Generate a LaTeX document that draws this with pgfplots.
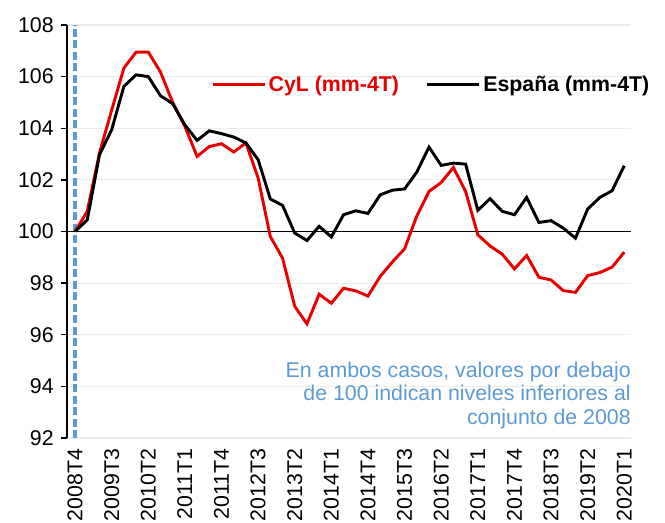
\documentclass[border=0pt]{standalone}
\usepackage{pgfplots}
\pgfplotsset{compat=1.18}
\usepackage{fontspec}
\setmainfont{Liberation Sans}
\definecolor{cylred}{RGB}{230,0,0}
\definecolor{noteblue}{RGB}{91,155,213}
\definecolor{gridgray}{RGB}{235,235,235}

\begin{document}
\begin{tikzpicture}
\begin{axis}[
  name=ax,
  scale only axis,
  width=423pt, height=309.75pt,
  xmin=-0.66, xmax=45.55,
  ymin=92, ymax=108,
  ytick={92,94,...,108},
  xtick={0,3,...,45},
  xticklabels={2008T4,2009T3,2010T2,2011T1,2011T4,2012T3,2013T2,2014T1,2014T4,2015T3,2016T2,2017T1,2017T4,2018T3,2019T2,2020T1},
  x tick label style={rotate=90, anchor=east},
  y tick label style={xshift=-2pt},
  separate axis lines,
  axis x line*=bottom, axis y line*=left,
  x axis line style={draw=none},
  y axis line style={black, line width=1pt, -},
  xtick style={draw=none},
  ytick style={black, line width=1pt},
  tick align=outside,
  major tick length=4.5pt,
  ymajorgrids, grid style={gridgray, line width=0.8pt},
  tick label style={font=\fontsize{16}{18}\selectfont},
  /pgf/number format/assume math mode=true,
  legend columns=2,
  legend style={at={(rel axis cs:0.255,0.855)}, anchor=west, draw=none, fill=none,
    inner sep=0pt, font=\fontsize{16}{18}\selectfont\bfseries,
    /tikz/every even column/.append style={column sep=18pt}},
  legend image code/.code={\draw[#1] (0pt,0pt) -- (39pt,0pt);},
]
% linea de referencia 2008T4
\addplot[noteblue, line width=3pt, dash pattern=on 6pt off 2.6pt, forget plot] coordinates {(0,92) (0,108)};
% base 100
\addplot[black, line width=1.3pt, forget plot] coordinates {(-0.66,100) (45.55,100)};
% CyL
\addplot[cylred, line width=2.2pt] coordinates {
(0,100) (1,100.78) (2,103.04) (3,104.7) (4,106.33) (5,106.95) (6,106.95) (7,106.18)
(8,105.0) (9,104.07) (10,102.91) (11,103.29) (12,103.4) (13,103.08) (14,103.43) (15,102.07)
(16,99.8) (17,98.97) (18,97.1) (19,96.42) (20,97.57) (21,97.22) (22,97.8) (23,97.7)
(24,97.5) (25,98.26) (26,98.82) (27,99.33) (28,100.6) (29,101.55) (30,101.9) (31,102.48)
(32,101.55) (33,99.87) (34,99.44) (35,99.12) (36,98.55) (37,99.07) (38,98.23) (39,98.12)
(40,97.71) (41,97.64) (42,98.29) (43,98.41) (44,98.62) (45,99.2)};
\addlegendentry{\textcolor{cylred}{CyL (mm-4T)}}
% Espana
\addplot[black, line width=2.2pt] coordinates {
(0,100) (1,100.45) (2,102.97) (3,103.94) (4,105.62) (5,106.07) (6,106.0) (7,105.26)
(8,104.95) (9,104.13) (10,103.53) (11,103.9) (12,103.79) (13,103.66) (14,103.43) (15,102.78)
(16,101.26) (17,101.01) (18,99.94) (19,99.65) (20,100.2) (21,99.79) (22,100.65) (23,100.8)
(24,100.7) (25,101.42) (26,101.6) (27,101.65) (28,102.3) (29,103.27) (30,102.56) (31,102.65)
(32,102.61) (33,100.82) (34,101.27) (35,100.78) (36,100.65) (37,101.32) (38,100.35) (39,100.42)
(40,100.13) (41,99.74) (42,100.87) (43,101.32) (44,101.58) (45,102.55)};
\addlegendentry{España (mm-4T)}
\node[anchor=north east, align=right, text=noteblue, inner sep=0pt,
  font=\fontsize{16}{17.5}\selectfont] at (axis cs:45.55,94.95)
  {En ambos casos, valores por debajo\\de 100 indican niveles inferiores al\\conjunto de 2008};
\end{axis}
\pgfresetboundingbox
\path ([shift={(-50.25pt,-63.75pt)}]ax.south west) rectangle ([shift={(25.5pt,18.75pt)}]ax.north east);
\end{tikzpicture}
\end{document}
